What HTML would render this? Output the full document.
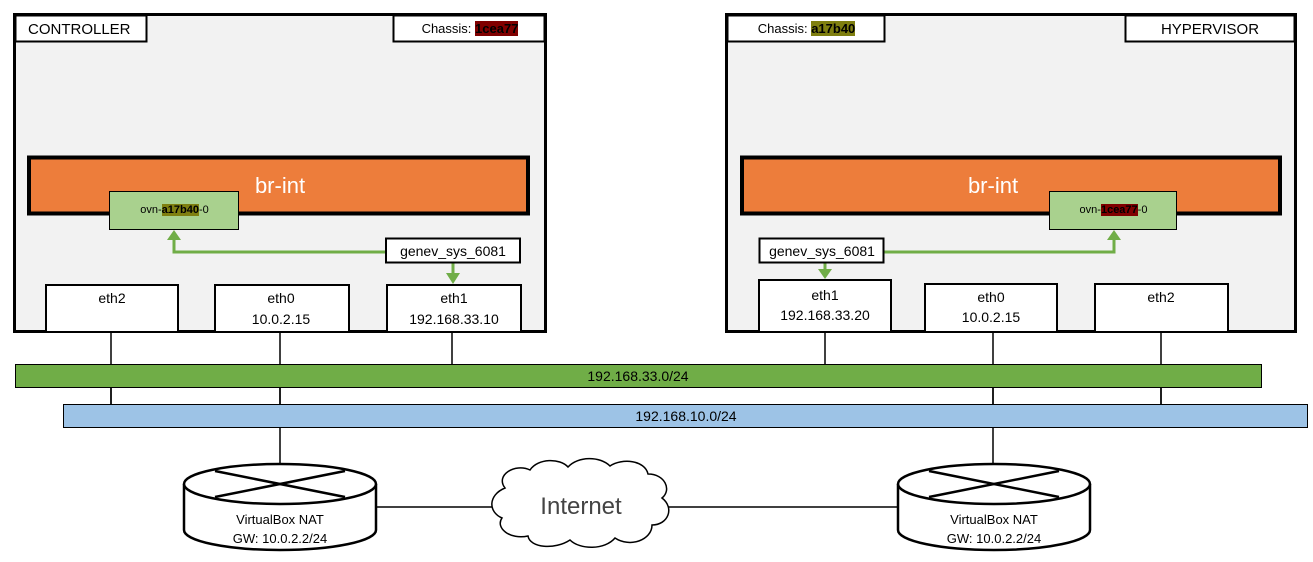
<!DOCTYPE html>
<html><head><meta charset="utf-8"><style>
html,body{margin:0;padding:0;background:#fff;}
svg{display:block;font-family:"Liberation Sans",sans-serif;}
.lbl{position:absolute;font-family:"Liberation Sans",sans-serif;white-space:nowrap;line-height:17px;}
.hr{background:#800000;font-weight:bold;}
.hy{background:#7f7f10;font-weight:bold;}
</style></head><body>
<div style="position:relative;width:1313px;height:562px;overflow:hidden">
<svg width="1313" height="562" viewBox="0 0 1313 562" xmlns="http://www.w3.org/2000/svg">
<g stroke="#000" stroke-width="1.5">
<line x1="111" y1="332" x2="111" y2="404"/>
<line x1="280" y1="332" x2="280" y2="470"/>
<line x1="452" y1="332" x2="452" y2="364"/>
<line x1="825" y1="332" x2="825" y2="364"/>
<line x1="993" y1="332" x2="993" y2="470"/>
<line x1="1161" y1="332" x2="1161" y2="404"/>
<line x1="376" y1="507" x2="495" y2="507"/>
<line x1="665" y1="507" x2="898" y2="507"/>
</g>
<!-- controller -->
<rect x="14.5" y="14.5" width="531" height="317" fill="#f2f2f2" stroke="#000" stroke-width="3"/>
<rect x="15.5" y="15.5" width="131" height="26" fill="#fff" stroke="#000" stroke-width="2"/>
<text x="28" y="34" font-size="15">CONTROLLER</text>
<rect x="393.5" y="15.5" width="151" height="26" fill="#fff" stroke="#000" stroke-width="2"/>
<rect x="29" y="157.5" width="499" height="56" fill="#ed7d3b" stroke="#000" stroke-width="4"/>
<text x="280" y="193" font-size="22" fill="#fff" text-anchor="middle">br-int</text>
<rect x="109.5" y="191.5" width="129" height="38" fill="#a9d18e" stroke="#000" stroke-width="1"/>
<polyline points="386,252 174,252 174,238" fill="none" stroke="#70ad47" stroke-width="3"/>
<polygon points="167,240 181,240 174,230" fill="#70ad47"/>
<line x1="453" y1="262" x2="453" y2="275" stroke="#70ad47" stroke-width="3"/>
<polygon points="446,273 460,273 453,284" fill="#70ad47"/>
<rect x="386" y="238.5" width="134" height="24" fill="#fff" stroke="#000" stroke-width="2"/>
<text x="453" y="256" font-size="14" text-anchor="middle">genev_sys_6081</text>
<rect x="46" y="285" width="132" height="47" fill="#fff" stroke="#000" stroke-width="2"/>
<text x="112" y="303" font-size="14" text-anchor="middle">eth2</text>
<rect x="215" y="285" width="134" height="47" fill="#fff" stroke="#000" stroke-width="2"/>
<text x="281" y="303" font-size="14" text-anchor="middle">eth0</text>
<text x="281" y="324" font-size="14" text-anchor="middle">10.0.2.15</text>
<rect x="387" y="285" width="134" height="47" fill="#fff" stroke="#000" stroke-width="2"/>
<text x="454" y="303" font-size="14" text-anchor="middle">eth1</text>
<text x="454" y="324" font-size="14" text-anchor="middle">192.168.33.10</text>
<!-- hypervisor -->
<rect x="726.5" y="14.5" width="569" height="317" fill="#f2f2f2" stroke="#000" stroke-width="3"/>
<rect x="727.5" y="15.5" width="157" height="26" fill="#fff" stroke="#000" stroke-width="2"/>
<rect x="1125.5" y="15.5" width="169" height="26" fill="#fff" stroke="#000" stroke-width="2"/>
<text x="1210" y="34" font-size="15" text-anchor="middle">HYPERVISOR</text>
<rect x="742" y="157.5" width="538" height="56" fill="#ed7d3b" stroke="#000" stroke-width="4"/>
<text x="993" y="193" font-size="22" fill="#fff" text-anchor="middle">br-int</text>
<rect x="1049.5" y="191.5" width="127" height="38" fill="#a9d18e" stroke="#000" stroke-width="1"/>
<polyline points="884,252 1114,252 1114,238" fill="none" stroke="#70ad47" stroke-width="3"/>
<polygon points="1107,240 1121,240 1114,230" fill="#70ad47"/>
<line x1="825" y1="262" x2="825" y2="271" stroke="#70ad47" stroke-width="3"/>
<polygon points="818,269 832,269 825,279" fill="#70ad47"/>
<rect x="759.5" y="238.5" width="124" height="24" fill="#fff" stroke="#000" stroke-width="2"/>
<text x="822" y="256" font-size="14" text-anchor="middle">genev_sys_6081</text>
<rect x="759" y="280" width="132" height="52" fill="#fff" stroke="#000" stroke-width="2"/>
<text x="825" y="300" font-size="14" text-anchor="middle">eth1</text>
<text x="825" y="320" font-size="14" text-anchor="middle">192.168.33.20</text>
<rect x="925" y="284" width="132" height="48" fill="#fff" stroke="#000" stroke-width="2"/>
<text x="991" y="302" font-size="14" text-anchor="middle">eth0</text>
<text x="991" y="322" font-size="14" text-anchor="middle">10.0.2.15</text>
<rect x="1095" y="284" width="133" height="48" fill="#fff" stroke="#000" stroke-width="2"/>
<text x="1161" y="302" font-size="14" text-anchor="middle">eth2</text>
<!-- bars -->
<rect x="15.5" y="364.5" width="1246" height="23" fill="#70ad47" stroke="#000" stroke-width="1"/>
<text x="638" y="381" font-size="14" text-anchor="middle">192.168.33.0/24</text>
<line x1="111" y1="388" x2="111" y2="404" stroke="#000" stroke-width="1.5"/>
<line x1="280" y1="388" x2="280" y2="404" stroke="#000" stroke-width="1.5"/>
<line x1="993" y1="388" x2="993" y2="404" stroke="#000" stroke-width="1.5"/>
<line x1="1161" y1="388" x2="1161" y2="404" stroke="#000" stroke-width="1.5"/>
<rect x="63.5" y="404.5" width="1244" height="23" fill="#9dc3e6" stroke="#000" stroke-width="1"/>
<text x="686" y="421" font-size="14" text-anchor="middle">192.168.10.0/24</text>
<!-- routers -->
<g stroke="#000" stroke-width="2.5" fill="#fff">
<path d="M184,484 L184,530 A96,20 0 0 0 376,530 L376,484"/>
<ellipse cx="280" cy="484" rx="96" ry="20"/>
<line x1="215" y1="471" x2="345" y2="497"/>
<line x1="215" y1="497" x2="345" y2="471"/>
<path d="M898,484 L898,530 A96,20 0 0 0 1090,530 L1090,484"/>
<ellipse cx="994" cy="484" rx="96" ry="20"/>
<line x1="929" y1="471" x2="1059" y2="497"/>
<line x1="929" y1="497" x2="1059" y2="471"/>
</g>
<text x="280" y="524" font-size="13" text-anchor="middle">VirtualBox NAT</text>
<text x="280" y="543" font-size="13" text-anchor="middle">GW: 10.0.2.2/24</text>
<text x="994" y="524" font-size="13" text-anchor="middle">VirtualBox NAT</text>
<text x="994" y="543" font-size="13" text-anchor="middle">GW: 10.0.2.2/24</text>
<path d="M505,488 C495,475 515,463 530,470 C538,458 560,458 568,467 C578,456 600,456 610,466 C622,458 645,460 648,474 C665,474 672,490 662,498 C675,508 668,525 652,525 C652,540 630,548 615,538 C605,550 580,550 570,540 C555,550 530,548 528,536 C510,540 495,528 502,518 C488,512 488,495 505,488 Z" fill="#fff" stroke="#000" stroke-width="1.5"/>
<text x="581" y="514" font-size="24" fill="#444" text-anchor="middle">Internet</text>
</svg>
<div class="lbl" style="left:395px;top:20px;width:150px;text-align:center;font-size:13px">Chassis: <span class="hr">1cea77</span></div>
<div class="lbl" style="left:728px;top:20px;width:157px;text-align:center;font-size:13px">Chassis: <span class="hy">a17b40</span></div>
<div class="lbl" style="left:110px;top:202px;width:129px;text-align:center;font-size:11px">ovn-<span class="hy">a17b40</span>-0</div>
<div class="lbl" style="left:1050px;top:202px;width:127px;text-align:center;font-size:11px">ovn-<span class="hr">1cea77</span>-0</div>
</div>
</body></html>
